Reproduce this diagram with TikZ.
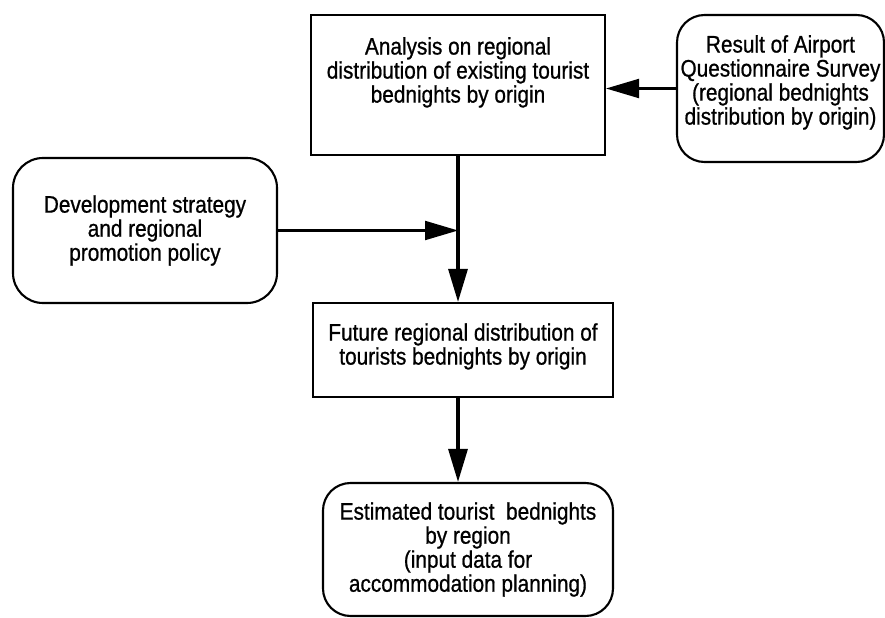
\documentclass[tikz,border=0pt]{standalone}
\usepackage{fontspec}
\setmainfont{Liberation Sans}[FakeStretch=0.87,FakeBold=0.8]
\usetikzlibrary{arrows.meta}

\begin{document}
\begin{tikzpicture}[
            plain-box/.style={rectangle,draw,line width=1.2pt,align=center,inner sep=2pt},
            round-box/.style={rectangle,draw,rounded corners=0.55cm,line width=1.2pt,align=center,inner sep=2pt},
            flow/.style={line width=1.2pt,-{Triangle[length=0.66cm,width=0.38cm]}},
            main-flow/.style={flow,line width=1.8pt},
            font=\fontsize{13.6}{12.6}\selectfont,
        ]
            \useasboundingbox (0,0) rectangle (17.7,-12.36);

            \node[plain-box,minimum width=5.88cm,minimum height=2.8cm] (analysis) at (9.16,-1.7) {Analysis on regional\\distribution of existing tourist\\bednights by origin\\[0.16cm]\mbox{}};
            \node[round-box,minimum width=4.14cm,minimum height=2.94cm] (survey) at (15.61,-1.77) {Result of Airport\\Questionnaire Survey\\(regional bednights\\distribution by origin)\\[-0.1cm]\mbox{}};
            \node[round-box,rounded corners=0.6cm,minimum width=5.28cm,minimum height=2.9cm] (policy) at (2.9,-4.61) {Development strategy\\and regional\\promotion policy};
            \node[plain-box,minimum width=6.0cm,minimum height=1.88cm] (future) at (9.26,-7.0) {Future regional distribution of\\tourists bednights by origin\\[-0.2cm]\mbox{}};
            \node[round-box,minimum width=5.8cm,minimum height=2.66cm] (estimate) at (9.36,-10.99) {Estimated tourist\ \ bednights\\by region\\(input data for\\accommodation planning)};

            \draw[main-flow] (analysis.south) -- (analysis.south |- future.north);
            \draw[flow] (policy.east) -- (policy.east -| analysis.south);
            \draw[flow] (survey.west) -- (survey.west -| analysis.east);
            \draw[main-flow] (future.south -| analysis.south) -- (estimate.north -| analysis.south);
        \end{tikzpicture}
\end{document}
